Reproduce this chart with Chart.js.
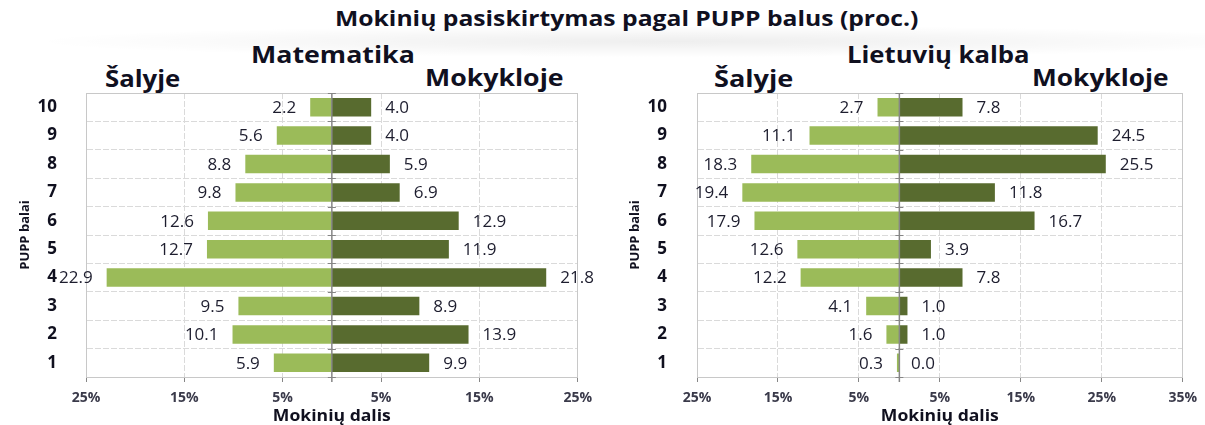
<!DOCTYPE html>
<html>
<head>
<meta charset="utf-8">
<script src="https://cdn.jsdelivr.net/npm/chart.js@4.4.0/dist/chart.umd.min.js"></script>
<style>
  body { margin: 0; width: 1205px; height: 425px; position: relative; overflow: hidden; background: #fff; font-family: "Open Sans", sans-serif; }
  .txt { position: absolute; white-space: nowrap; font-weight: bold; color: #10101f; line-height: 1; transform-origin: 0 0; }
  .band { position: absolute; left: 30px; top: 27px; width: 1175px; height: 32px;
          background: radial-gradient(ellipse 55% 50% at 55% 45%, rgba(0,0,0,0.065), rgba(0,0,0,0)); }
  .box { position: absolute; top: 90px; height: 335px; }
</style>
</head>
<body>
<div class="band"></div>
<div class="txt" data-w="583" style="left:335px; top:8px; font-size:21px;">Mokinių pasiskirtymas pagal PUPP balus (proc.)</div>

<div class="txt" data-w="164" style="left:251px; top:42px; font-size:24px;">Matematika</div>
<div class="txt" data-w="75" style="left:105px; top:66px; font-size:24px;">Šalyje</div>
<div class="txt" data-w="139" style="left:425px; top:65px; font-size:24px;">Mokykloje</div>

<div class="txt" data-w="183" style="left:847px; top:42px; font-size:24px;">Lietuvių kalba</div>
<div class="txt" data-w="79" style="left:714px; top:66px; font-size:24px;">Šalyje</div>
<div class="txt" data-w="137" style="left:1032px; top:65px; font-size:24px;">Mokykloje</div>

<div class="box" style="left:0; width:600px;"><canvas id="matCanvas"></canvas></div>
<div class="box" style="left:600px; width:605px;"><canvas id="litCanvas"></canvas></div>

<script>
// PUPP balai, from top to bottom
var balai = ['10', '9', '8', '7', '6', '5', '4', '3', '2', '1'];

// Matematika
var matSalyje = [2.2, 5.6, 8.8, 9.8, 12.6, 12.7, 22.9, 9.5, 10.1, 5.9];
var matMokykloje = [4.0, 4.0, 5.9, 6.9, 12.9, 11.9, 21.8, 8.9, 13.9, 9.9];

// Lietuvių kalba
var litSalyje = [2.7, 11.1, 18.3, 19.4, 17.9, 12.6, 12.2, 4.1, 1.6, 0.3];
var litMokykloje = [7.8, 24.5, 25.5, 11.8, 16.7, 3.9, 7.8, 1.0, 1.0, 0.0];

var sviesi = '#9BBB59';
var tamsi = '#586B2F';

// headings are a bit wider in the original, stretch them to fit
document.querySelectorAll('.txt').forEach(function(el) {
    var w = parseFloat(el.getAttribute('data-w'));
    el.style.transform = 'scaleX(' + (w / el.offsetWidth) + ')';
});

// plot frame
var remelis = {
    id: 'remelis',
    beforeDatasetsDraw: function(chart) {
        var a = chart.chartArea;
        var ctx = chart.ctx;
        ctx.save();
        ctx.strokeStyle = '#c8c8c8';
        ctx.lineWidth = 1;
        ctx.strokeRect(Math.round(a.left) + 0.5, Math.round(a.top) + 0.5,
            Math.round(a.right - a.left) - 1, Math.round(a.bottom - a.top));
        ctx.restore();
    }
};

// value labels next to the bar ends + zero line
var reiksmes = {
    id: 'reiksmes',
    afterDatasetsDraw: function(chart) {
        var ctx = chart.ctx;
        ctx.save();
        ctx.font = '17px "Open Sans"';
        ctx.fillStyle = '#1d1d2e';
        ctx.textBaseline = 'middle';
        chart.data.datasets.forEach(function(ds, di) {
            chart.getDatasetMeta(di).data.forEach(function(bar, i) {
                var v = ds.data[i];
                var t = Math.abs(v).toFixed(1);
                if (v < 0) {
                    ctx.textAlign = 'right';
                    ctx.fillText(t, bar.x - 14, bar.y + 1);
                } else {
                    ctx.textAlign = 'left';
                    ctx.fillText(t, bar.x + 14, bar.y + 1);
                }
            });
        });

        var x = chart.scales.x, y = chart.scales.y;
        var x0 = x.getPixelForValue(0);
        ctx.strokeStyle = '#868686';
        ctx.lineWidth = 1.5;
        ctx.beginPath();
        ctx.moveTo(x0, y.top);
        ctx.lineTo(x0, y.bottom + 5);
        ctx.stroke();
        ctx.lineWidth = 1;
        for (var k = 0; k <= balai.length; k++) {
            var yy = Math.round(y.getPixelForValue(k - 0.5)) + 0.5;
            ctx.beginPath();
            ctx.moveTo(x0 - 4, yy);
            ctx.lineTo(x0 + 4, yy);
            ctx.stroke();
        }
        ctx.restore();
    }
};

// x axis caption, placed at a value of the x scale
var antraste = {
    id: 'antraste',
    afterDraw: function(chart) {
        var x = chart.scales.x;
        var ctx = chart.ctx;
        var tekstas = 'Mokinių dalis';
        ctx.save();
        ctx.font = 'bold 16px "Open Sans"';
        ctx.fillStyle = '#10101f';
        ctx.textAlign = 'center';
        ctx.textBaseline = 'middle';
        var sx = 118 / ctx.measureText(tekstas).width;
        ctx.translate(x.getPixelForValue(chart.options.plugins.antraste.at), x.bottom - 9);
        ctx.scale(sx, 1);
        ctx.fillText(tekstas, 0, 0);
        ctx.restore();
    }
};

function piestiGrafika(id, salyje, mokykloje, xMin, xMax, yPlotis, yTarpas, yPavPad, antrVieta) {
    var graphTarget = document.getElementById(id);
    return new Chart(graphTarget, {
        type: 'bar',
        data: {
            labels: balai,
            datasets: [{
                label: 'Šalyje',
                data: salyje.map(function(v) { return -v; }),
                backgroundColor: sviesi,
                barPercentage: 0.65,
                categoryPercentage: 1
            }, {
                label: 'Mokykloje',
                data: mokykloje,
                backgroundColor: tamsi,
                barPercentage: 0.65,
                categoryPercentage: 1
            }]
        },
        options: {
            indexAxis: 'y',
            responsive: true,
            maintainAspectRatio: false,
            animation: false,
            layout: { padding: { top: 3, right: 17, left: 0, bottom: 0 } },
            plugins: {
                legend: { display: false },
                tooltip: { enabled: false },
                antraste: { at: antrVieta }
            },
            scales: {
                x: {
                    stacked: true,
                    min: xMin,
                    max: xMax,
                    ticks: {
                        stepSize: 10,
                        padding: 8,
                        color: '#3a3a4a',
                        font: { family: 'Open Sans', size: 14, weight: 'bold' },
                        callback: function(v) { return Math.abs(v) + '%'; }
                    },
                    grid: { color: '#dadada', tickColor: '#868686', tickLength: 5 },
                    border: { color: '#868686', dash: [6, 2] },
                    afterFit: function(s) { s.height = 48; }
                },
                y: {
                    stacked: true,
                    ticks: {
                        padding: 0,
                        color: '#10101f',
                        font: { family: 'Open Sans', size: 17, weight: 'bold' }
                    },
                    // invisible ticks keep the labels away from the plot
                    grid: { color: '#dadada', tickColor: 'rgba(0,0,0,0)', tickLength: yTarpas },
                    border: { color: '#bfbfbf', dash: [6, 2] },
                    title: {
                        display: true,
                        text: 'PUPP balai',
                        color: '#10101f',
                        font: { family: 'Open Sans', size: 13, weight: 'bold' },
                        padding: { top: yPavPad, bottom: 0 }
                    },
                    afterFit: function(s) {
                        s.width = yPlotis;
                        s.paddingTop = 0;
                        s.paddingBottom = 0;
                    }
                }
            }
        },
        plugins: [remelis, reiksmes, antraste]
    });
}

piestiGrafika('matCanvas', matSalyje, matMokykloje, -25, 25, 86, 29, 17, 0);
piestiGrafika('litCanvas', litSalyje, litMokykloje, -25, 35, 97, 30, 27, 5);
</script>
</body>
</html>
